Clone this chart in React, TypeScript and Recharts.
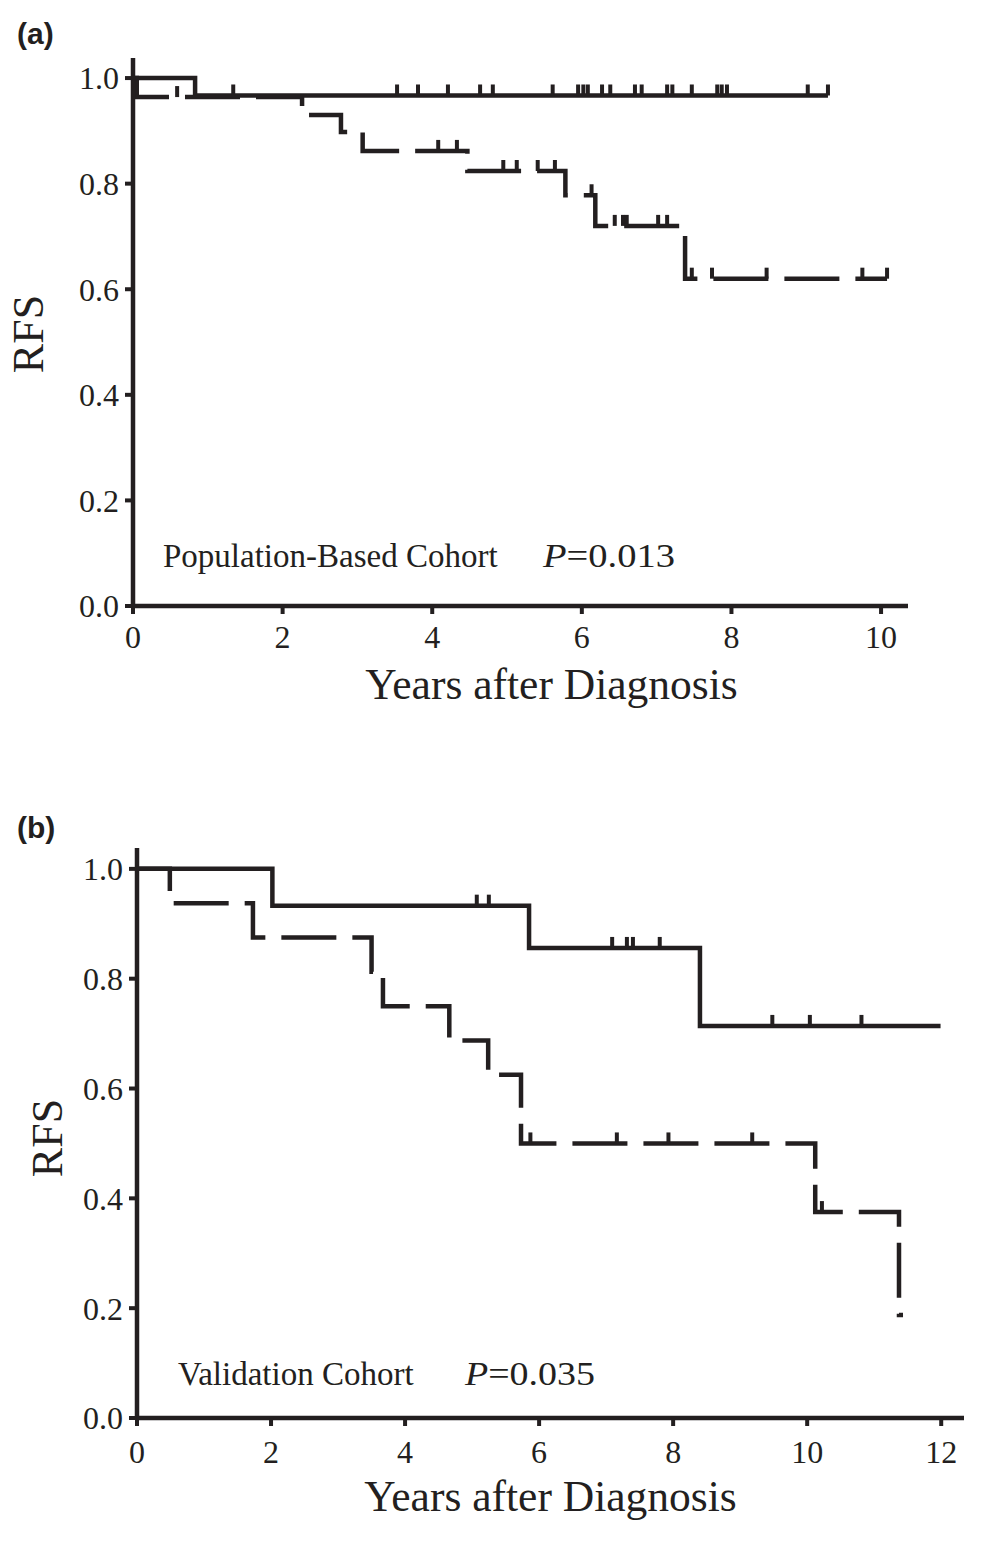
import React from 'react';
import { ComposedChart, Line, Scatter, XAxis, YAxis } from 'recharts';

const INK = '#231f20';
const SERIF = "'Liberation Serif', 'Times New Roman', serif";

// ---------- Panel (a): Population-Based Cohort ----------
const aSolidTimes = [0, 0.83, 9.29];
const aSolidSurv = [1.0, 0.967, 0.967];
const aSolidCensorTimes = [1.34, 3.53, 3.81, 4.21, 4.64, 4.81, 5.61, 5.95, 6.02, 6.08, 6.27, 6.38, 6.71, 6.8, 7.14, 7.21, 7.47, 7.81, 7.87, 7.94, 9.02, 9.29];
const aSolidCensorSurv = [0.967, 0.967, 0.967, 0.967, 0.967, 0.967, 0.967, 0.967, 0.967, 0.967, 0.967, 0.967, 0.967, 0.967, 0.967, 0.967, 0.967, 0.967, 0.967, 0.967, 0.967, 0.967];

const aDashTimes = [0, 0.05, 2.26, 2.78, 3.07, 4.47, 5.78, 6.18, 7.38, 10.08];
const aDashSurv = [1.0, 0.964, 0.93, 0.898, 0.862, 0.824, 0.778, 0.72, 0.62, 0.62];
const aDashCensorTimes = [0.59, 4.08, 4.33, 4.95, 5.13, 5.41, 5.64, 6.13, 6.44, 6.55, 6.6, 7.02, 7.14, 7.47, 7.74, 8.47, 9.75, 10.08];
const aDashCensorSurv = [0.964, 0.862, 0.862, 0.824, 0.824, 0.824, 0.824, 0.778, 0.72, 0.72, 0.72, 0.72, 0.72, 0.62, 0.62, 0.62, 0.62, 0.62];

// ---------- Panel (b): Validation Cohort ----------
const bSolidTimes = [0, 2.02, 5.85, 8.4, 11.99];
const bSolidSurv = [1.0, 0.933, 0.856, 0.714, 0.714];
const bSolidCensorTimes = [5.07, 5.25, 7.09, 7.31, 7.4, 7.8, 9.48, 10.04, 10.81];
const bSolidCensorSurv = [0.933, 0.933, 0.856, 0.856, 0.856, 0.856, 0.714, 0.714, 0.714];

const bDashTimes = [0, 0.49, 1.73, 3.5, 3.67, 4.66, 5.24, 5.73, 10.12, 11.37, 11.43];
const bDashSurv = [1.0, 0.9375, 0.875, 0.8125, 0.75, 0.6875, 0.625, 0.5, 0.375, 0.1875, 0.1875];
const bDashCensorTimes = [5.87, 7.16, 7.93, 9.18, 10.22];
const bDashCensorSurv = [0.5, 0.5, 0.5, 0.5, 0.375];

const yTicks = [0, 0.2, 0.4, 0.6, 0.8, 1.0];
const aXTicks = [0, 2, 4, 6, 8, 10];
const bXTicks = [0, 2, 4, 6, 8, 10, 12];

const xTitle = 'Years after Diagnosis';
const yTitle = 'RFS';

const zip = (t: number[], s: number[]) => t.map((v, i) => ({ t: v, s: s[i] }));

const CensorMark = (p: any) => {
  if (p.cx == null || p.cy == null) return null;
  return <line x1={p.cx} x2={p.cx} y1={p.cy} y2={p.cy - 11} stroke={INK} strokeWidth={4} />;
};

type PanelProps = {
  top: number;
  height: number;
  margin: { top: number; right: number; bottom: number; left: number };
  xMax: number;
  xTicks: number[];
  solid: { t: number; s: number }[];
  solidCensor: { t: number; s: number }[];
  dash: { t: number; s: number }[];
  dashCensor: { t: number; s: number }[];
  yTitleDx: number;
  yTitleDy: number;
  xTitleDx: number;
  xTickMargin: number;
};

function Panel(props: PanelProps) {
  const { top, height, margin, xMax, xTicks, solid, solidCensor, dash, dashCensor } = props;
  return (
    <div style={{ position: 'absolute', left: 0, top, width: 1004, height }}>
      <ComposedChart width={1004} height={height} margin={margin}>
        <XAxis
          type="number"
          dataKey="t"
          domain={[0, xMax]}
          ticks={xTicks}
          allowDataOverflow
          height={30}
          axisLine={{ stroke: INK, strokeWidth: 4.5 }}
          tickLine={{ stroke: INK, strokeWidth: 4 }}
          tickSize={8}
          tickMargin={props.xTickMargin}
          tick={{ fontFamily: SERIF, fontSize: 32, fill: INK }}
          label={{
            content: (lp: any) => {
              const vb = lp.viewBox || {};
              return (
                <text
                  x={vb.x + vb.width / 2 + props.xTitleDx}
                  y={vb.y + 93}
                  textAnchor="middle"
                  fontFamily={SERIF}
                  fontSize={43.5}
                  fill={INK}
                >
                  {xTitle}
                </text>
              );
            },
          }}
        />
        <YAxis
          type="number"
          domain={[0, 1.038]}
          ticks={yTicks}
          allowDataOverflow
          width={60}
          axisLine={{ stroke: INK, strokeWidth: 4.5 }}
          tickLine={{ stroke: INK, strokeWidth: 4 }}
          tickSize={8}
          tickMargin={6}
          tickFormatter={(v: number) => v.toFixed(1)}
          tick={{ fontFamily: SERIF, fontSize: 32, fill: INK }}
          label={{
            content: (lp: any) => {
              const vb = lp.viewBox || {};
              const x = vb.x + props.yTitleDx;
              const y = vb.y + vb.height / 2 + props.yTitleDy;
              return (
                <text
                  x={x}
                  y={y}
                  transform={`rotate(-90 ${x} ${y})`}
                  textAnchor="middle"
                  fontFamily={SERIF}
                  fontSize={44}
                  fill={INK}
                >
                  {yTitle}
                </text>
              );
            },
          }}
        />
        <Line
          data={dash}
          dataKey="s"
          type="stepAfter"
          stroke={INK}
          strokeWidth={4.5}
          strokeDasharray="55 16"
          strokeLinecap="butt"
          strokeLinejoin="miter"
          dot={false}
          activeDot={false}
          isAnimationActive={false}
        />
        <Line
          data={solid}
          dataKey="s"
          type="stepAfter"
          stroke={INK}
          strokeWidth={4.5}
          strokeLinecap="butt"
          strokeLinejoin="miter"
          dot={false}
          activeDot={false}
          isAnimationActive={false}
        />
        <Scatter data={dashCensor} dataKey="s" shape={CensorMark} isAnimationActive={false} />
        <Scatter data={solidCensor} dataKey="s" shape={CensorMark} isAnimationActive={false} />
      </ComposedChart>
    </div>
  );
}

export default function App() {
  return (
    <div style={{ position: 'absolute', left: 0, top: 0, width: 1004, height: 1560, background: '#fff' }}>
      <Panel
        top={0}
        height={780}
        margin={{ top: 58, right: 96, bottom: 144, left: 73 }}
        xMax={10.36}
        xTicks={aXTicks}
        solid={zip(aSolidTimes, aSolidSurv)}
        solidCensor={zip(aSolidCensorTimes, aSolidCensorSurv)}
        dash={zip(aDashTimes, aDashSurv)}
        dashCensor={zip(aDashCensorTimes, aDashCensorSurv)}
        yTitleDx={-30}
        yTitleDy={2}
        xTitleDx={31}
        xTickMargin={11}
      />
      <Panel
        top={790}
        height={770}
        margin={{ top: 58, right: 40, bottom: 112, left: 77 }}
        xMax={12.34}
        xTicks={bXTicks}
        solid={zip(bSolidTimes, bSolidSurv)}
        solidCensor={zip(bSolidCensorTimes, bSolidCensorSurv)}
        dash={zip(bDashTimes, bDashSurv)}
        dashCensor={zip(bDashCensorTimes, bDashCensorSurv)}
        yTitleDx={-15}
        yTitleDy={5}
        xTitleDx={0}
        xTickMargin={14}
      />
      <svg
        width={1004}
        height={1560}
        style={{ position: 'absolute', left: 0, top: 0, pointerEvents: 'none' }}
      >
        <text x={17} y={44} fontFamily="'Liberation Sans', Arial, sans-serif" fontWeight="bold" fontSize={30} fill={INK}>(a)</text>
        <text x={17} y={838} fontFamily="'Liberation Sans', Arial, sans-serif" fontWeight="bold" fontSize={30} fill={INK}>(b)</text>
        <text x={163} y={567} fontFamily={SERIF} fontSize={33} fill={INK}>Population-Based Cohort</text>
        <text x={543} y={567} fontFamily={SERIF} fontSize={33} fill={INK} textLength={132} lengthAdjust="spacingAndGlyphs">
          <tspan fontStyle="italic">P</tspan>=0.013
        </text>
        <text x={178} y={1385} fontFamily={SERIF} fontSize={33} fill={INK}>Validation Cohort</text>
        <text x={465} y={1385} fontFamily={SERIF} fontSize={33} fill={INK} textLength={130} lengthAdjust="spacingAndGlyphs">
          <tspan fontStyle="italic">P</tspan>=0.035
        </text>
      </svg>
    </div>
  );
}
